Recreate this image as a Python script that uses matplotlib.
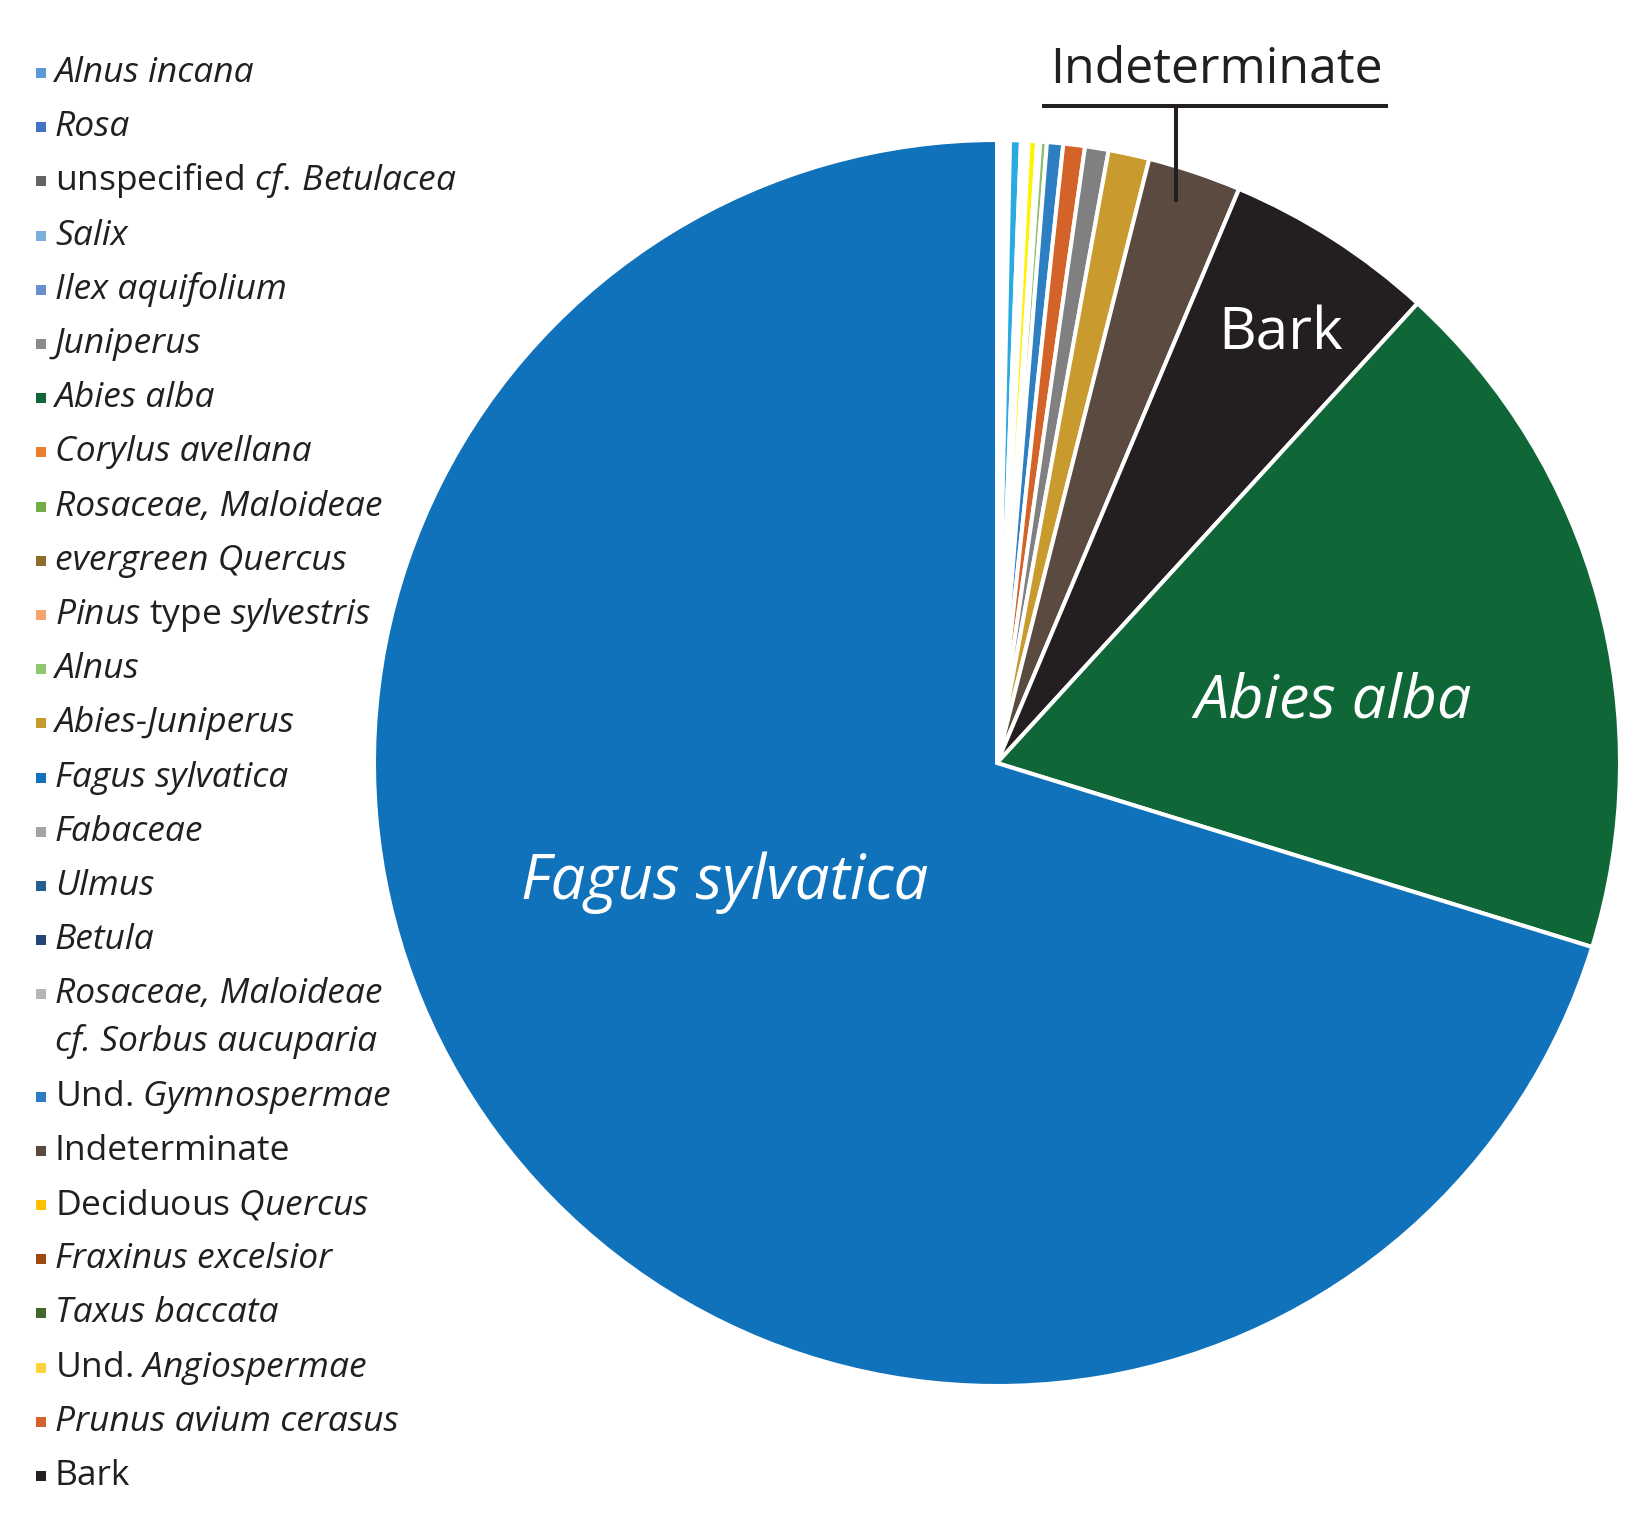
import numpy as np
import matplotlib.pyplot as plt
from matplotlib.patches import Rectangle

plt.rcParams['font.family'] = 'Open Sans'
plt.rcParams['mathtext.fontset'] = 'custom'
plt.rcParams['mathtext.rm'] = 'Open Sans'
plt.rcParams['mathtext.it'] = 'Open Sans:italic'

W, H = 1639, 1515
TXT = '#231F20'

# legend entries, in the order of the original figure
# (plain strings are fully italic, mixed ones use $\mathit{}$ for the italic part)
legend_labels = ['Alnus incana', 'Rosa', r'unspecified $\mathit{cf.\,Betulacea}$',
                 'Salix', 'Ilex aquifolium', 'Juniperus', 'Abies alba', 'Corylus avellana',
                 'Rosaceae, Maloideae', 'evergreen Quercus',
                 r'$\mathit{Pinus}$ type $\mathit{sylvestris}$', 'Alnus', 'Abies-Juniperus',
                 'Fagus sylvatica', 'Fabaceae', 'Ulmus', 'Betula',
                 'Rosaceae, Maloideae\ncf. Sorbus aucuparia',
                 r'Und. $\mathit{Gymnospermae}$', 'Indeterminate',
                 r'Deciduous $\mathit{Quercus}$', 'Fraxinus excelsior', 'Taxus baccata',
                 r'Und. $\mathit{Angiospermae}$', 'Prunus avium cerasus', 'Bark']
legend_italic = [True, True, False, True, True, True, True, True, True, True, False,
                 True, True, True, True, True, True, True, False, False, False, True,
                 True, False, True, False]
legend_colors = ['#5B9BD5', '#4472C4', '#636363', '#7CAFDD', '#698ED0', '#8B8B8B',
                 '#0F6637', '#ED7D31', '#70AD47', '#8C6D2C', '#F4A46C', '#8DC86F',
                 '#C99A2E', '#1172BC', '#A5A5A5', '#255E91', '#264478', '#B5B5B5',
                 '#2E7DC4', '#5A4A40', '#FFC000', '#9E480E', '#43682B', '#FFD33A',
                 '#D2622A', '#231F20']

# pie slices clockwise from 12 o'clock (% of fragments)
pie_names = ['Rosa', 'Betulacea', 'Salix', 'Corylus', 'Maloideae', 'evergreen Quercus',
             'Pinus', 'Fabaceae', 'Ulmus', 'Alnus incana', 'Betula', 'Sorbus',
             'Deciduous Quercus', 'Fraxinus', 'Taxus', 'Und. Angiospermae', 'Ilex',
             'Alnus', 'Und. Gymnospermae', 'Prunus', 'Juniperus', 'Abies-Juniperus',
             'Indeterminate', 'Bark', 'Abies alba', 'Fagus sylvatica']
pie_values = [0.037, 0.037, 0.037, 0.037, 0.037, 0.037, 0.037, 0.037, 0.037,
              0.28, 0.039, 0.039, 0.039, 0.039, 0.039, 0.22, 0.08, 0.17, 0.42,
              0.56, 0.61, 1.06, 2.42, 5.44, 17.97, 70.19]
pie_colors = ['#4472C4', '#636363', '#7CAFDD', '#ED7D31', '#70AD47', '#8C6D2C',
              '#F4A46C', '#A5A5A5', '#255E91', '#29ABE2', '#264478', '#B5B5B5',
              '#FFC000', '#9E480E', '#43682B', '#FFF200', '#6A86C0', '#8CC06A',
              '#2E7EC2', '#D4632A', '#808080', '#C99A2E', '#5A4A40', '#231F20',
              '#0F6637', '#1172BC']

fig = plt.figure(figsize=(W / 100, H / 100), dpi=100)
ax = fig.add_axes([0, 0, 1, 1])

wedges, _ = ax.pie(pie_values, colors=pie_colors, startangle=90, counterclock=False,
                   center=(997, H - 763), radius=623,
                   wedgeprops=dict(edgecolor='white', linewidth=2.9))
ax.set_xlim(0, W)
ax.set_ylim(0, H)
ax.set_aspect('equal')
ax.axis('off')

# labels on the pie
ax.text(725, H - 899, 'Fagus sylvatica', style='italic', color='white', fontsize=44.5,
        ha='center', va='baseline')
ax.text(1333, H - 717, 'Abies alba', style='italic', color='white', fontsize=44,
        ha='center', va='baseline')
ax.text(1281, H - 349, 'Bark', color='white', fontsize=42, ha='center', va='baseline')
ax.text(1216, H - 83, 'Indeterminate', color=TXT, fontsize=36, ha='center', va='baseline')
ax.plot([1042, 1388], [H - 105.5, H - 105.5], color=TXT, lw=2.9, solid_capstyle='butt')
ax.plot([1176, 1176], [H - 105.5, H - 202], color=TXT, lw=2.9, solid_capstyle='butt')

# legend drawn by hand
y = 82
for lab, it, col in zip(legend_labels, legend_italic, legend_colors):
    ax.add_patch(Rectangle((36, H - y + 4), 10, 10, color=col, lw=0))
    for line in lab.split('\n'):
        ax.text(55, H - y, line, color=TXT, fontsize=25.5, ha='left', va='baseline',
                style='italic' if it else 'normal')
        y += 48
    y += 54.2 - 48

fig.savefig('out.png', dpi=100)
